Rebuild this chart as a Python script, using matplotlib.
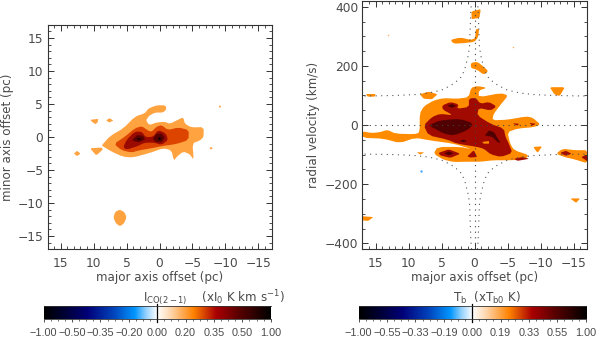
import numpy as np
import matplotlib
matplotlib.use('Agg')
import matplotlib.pyplot as plt
from matplotlib.colors import LinearSegmentedColormap
from matplotlib.ticker import MultipleLocator

# ---- left panel: integrated intensity contours (offset pc, offset pc)
left_level1 = [
    [(8.8,-1.3),(7.5,0.15),(5.5,1.3),(3.7,3.1),(2.2,3.6),(1.7,4.3),(0.45,4.8),(-0.9,4.8),(-1.05,4.2),
     (-0.55,3.7),(0.7,3.7),(1.6,3.2),(2.05,2.5),(1.55,1.8),(0.45,2.2),(-0.8,2.3),(-1.55,2.0),(-2.6,2.5),
     (-3.6,3.0),(-3.85,2.0),(-4.85,1.45),(-6.7,1.5),(-6.7,0),(-6.1,-0.55),(-5,-0.95),(-5.2,-3.5),
     (-4.6,-2.6),(-3.6,-2.2),(-2.6,-3),(-2.2,-3.6),(-1.8,-2),(-0.55,-1.7),(1.45,-2.4),(4,-3.1),
     (5.5,-3),(7.3,-2.2),(8.5,-1.45)],
    [(10.55,-1.7),(8.8,-1.6),(8.6,-1.9),(9.6,-2.8)],
    [(10.5,2.6),(9.3,2.75),(9.4,2.2),(9.7,1.95),(10.2,2.25)],
    [(8.1,2.5),(7.6,2.85),(7.0,2.5),(7.6,2.2)],
    [(13.0,-2.5),(12.5,-2.1),(12.0,-2.5),(12.5,-2.9)],
    [(7.0,-12.2),(6.7,-11.3),(6.0,-11.0),(5.3,-11.4),(5.0,-12.2),(5.4,-13.1),(6.0,-13.5),(6.6,-13.1)],
    [(-9.0,4.6),(-9.15,4.8),(-9.35,4.6),(-9.15,4.4)],
    [(-7.6,-1.7),(-7.8,-1.5),(-8.1,-1.7),(-7.8,-1.9)],
]
left_level2 = [[(6.9,-1.05),(5.25,0.05),(3.75,1.3),(2.7,1.65),(1.7,0.95),(1.2,0.8),(0.45,1.55),(-0.3,1.8),
                (-1.3,1.05),(-2.85,1.45),(-4.45,1.05),(-4.4,-0.45),(-2.6,-1.05),(-0.55,-1.35),(1.2,-1.7),
                (3,-2),(4.25,-2.35),(5.75,-2)]]
left_level3 = [[(5.5,-1.55),(5,-0.45),(3.75,0.8),(2.7,0.8),(2.05,-0.05),(0.95,0.05),(0.2,1.05),(-0.95,0.55),
                (-1.3,-0.45),(-0.3,-1.2),(0.85,-0.85),(2.2,-0.85),(3.5,-1.45),(5,-1.9)]]
left_level4 = [[(4.2,-0.5),(3.4,0.3),(2.5,0.2),(2.2,-0.4),(3.2,-0.8)],
               [(1.0,-0.3),(0.5,0.5),(-0.3,0.55),(-0.8,-0.1),(-0.3,-0.8),(0.5,-0.8)]]
left_level5 = [[(3.5,-0.3),(3.1,-0.15),(2.7,-0.3),(3.1,-0.45)],
               [(0.3,-0.25),(0,0),(-0.3,-0.25),(0,-0.5)]]

# ---- right panel: position-velocity contours (offset pc, km/s)
right_level1 = [
    [(17,-21),(15.6,-27),(14.3,-24),(13.2,-16),(12,-29),(9,-31),(8.3,-24),(8.3,38),(7.7,63),(6.2,83),(4.7,91),
     (2.6,89),(0.9,94),(0.5,126),(-0.4,132),(-1.9,126),(-0.65,117),(-0.65,94),(-4,108),(-5.1,100),(-4,70),
     (-2.9,38),(-2.7,16),(-5,18),(-7.8,29),(-8.8,25),(-10,2),(-9,-7),(-6.5,-12),(-5,-24),(-5.4,-63),(-6,-85),
     (-8.3,-102),(-7.5,-117),(-5.2,-119),(-2.9,-119),(-0.9,-124),(1.1,-124),(3.15,-125),(4.7,-117),(6.2,-97),
     (5.6,-74),(2.1,-74),(0.35,-82),(3.15,-63),(6.7,-52),(9,-43),(11.3,-61),(13.8,-46),(17,-43)],
    [(0.45,384),(-0.95,392),(-0.75,362),(0.45,358)],
    [(3.65,288),(2.15,296),(0.6,288),(-0.1,293),(-0.2,325),(-0.7,325),(-0.55,297),(0,281),(1.6,277),(3.15,275)],
    [(0.55,210),(-0.4,214),(-1.35,198),(-2.1,182),(-1.4,170),(-0.4,187),(0.55,193)],
    [(8.3,104),(6.95,113),(5.6,104),(6.45,87),(7.7,89)],
    [(16.45,105),(15.0,105),(15.1,96),(16.2,96)],
    [(-11.4,128),(-13.7,128),(-12.9,98),(-12.1,104)],
    [(-8.9,-74),(-10.25,-72),(-9.55,-94)],
    [(-14.5,-248),(-16.0,-248),(-15.4,-263)],
    [(17.2,-308),(15.3,-311),(16.1,-324),(17.2,-322)],
    [(8.75,-92),(7.6,-92),(8.2,-100)],
    [(-12.35,-97),(-13.35,-80),(-15.15,-85),(-17.2,-85),(-17.2,-130),(-15.15,-116),(-13.6,-108)],
]
right_level2 = [
    [(7.7,-1),(6.45,27),(5.2,38),(3.25,33),(4.8,52),(4.9,66),(3.65,78),(2.4,70),(2.65,55),(0.85,61),(0.85,89),
     (-0.15,92),(-0.9,72),(-2.2,78),(-3.35,63),(-2.45,49),(-0.65,58),(-0.4,33),(-2.45,4),(-4.45,-12),(-4.7,-40),
     (-5.2,-63),(-5.75,-94),(-4,-108),(-2.45,-99),(-1.4,-80),(-0.4,-74),(2.65,-63),(4.15,-49),(6.95,-35)],
    [(5.45,-94),(3.9,-82),(2.15,-97),(3.65,-111),(5.15,-103)],
    [(1.1,-106),(0.1,-85),(-0.4,-108),(0.6,-110)],
    [(-6,-114),(-7.25,-108),(-8.3,-114),(-6.5,-121)],
    [(-5.75,6),(-6.75,4.5),(-6.5,-2)],
    [(-8.3,7),(-9.3,4.5),(-8.8,-2)],
    [(-13,-94),(-13.85,-87),(-14.7,-97),(-13.85,-104)],
    [(-16.15,-108),(-17.15,-100),(-17.15,-123)],
]
right_hole = [[(-1.15,-57),(-2.2,-54),(-2.2,-63),(-1.4,-63)]]
right_level3 = [
    [(6.95,-1),(5.2,16),(2.15,21),(0.1,4.5),(1.1,-18),(3.15,-35),(4.65,-29),(6.45,-7)],
    [(4.15,66),(3.4,71),(2.75,65),(3.4,58)],
    [(2.25,-53),(1.6,-49),(1.1,-55),(1.75,-58)],
    [(4.55,-96),(3.9,-89),(3.15,-96),(3.9,-102)],
    [(-1.55,-35),(-2.2,-18),(-2.95,-24),(-3.95,-61),(-3.45,-57),(-2.7,-40)],
]
right_specks_x = [13.15, -5.85, 8.05]
right_specks_v = [305, 264, -155]

# dotted rotation-curve guide (|offset|, |velocity|)
guide_x = [0.45, 0.55, 0.75, 0.95, 1.4, 1.9, 2.6, 3.5, 5.0, 7.0, 9.0, 12.0, 17.0]
guide_v = [420, 390, 265, 235, 195, 165, 150, 135, 118, 108, 103, 100, 98]

left_cb_labels = ['-1.00', '-0.50', '-0.35', '-0.20', '0.00', '0.20', '0.35', '0.50', '1.00']
right_cb_labels = ['-1.00', '-0.55', '-0.33', '-0.19', '0.00', '0.19', '0.33', '0.55', '1.00']

# ---- styling
W, H = 597, 338
TXT = '#4a4a4a'
plt.rcParams['font.family'] = 'DejaVu Sans'
plt.rcParams['font.size'] = 8.6


def box(x0, y0, x1, y1):
    return [x0 / W, 1 - y1 / H, (x1 - x0) / W, (y1 - y0) / H]


def chaikin(p):
    p = np.array(p, float)
    q = np.roll(p, -1, axis=0)
    w = 0.8 if len(p) > 6 else 0.88
    out = np.empty((2 * len(p), 2))
    out[0::2] = w * p + (1 - w) * q
    out[1::2] = (1 - w) * p + w * q
    return out


def draw(ax, polys, color):
    for poly in polys:
        s = chaikin(poly)
        ax.fill(s[:, 0], s[:, 1], color=color, lw=0)


def style(ax, ymajor, yminor):
    ax.xaxis.set_major_locator(MultipleLocator(5))
    ax.xaxis.set_minor_locator(MultipleLocator(1))
    ax.yaxis.set_major_locator(MultipleLocator(ymajor))
    ax.yaxis.set_minor_locator(MultipleLocator(yminor))
    ax.tick_params(which='major', direction='in', top=True, right=True, length=4.2, width=0.7,
                   color='#333333', labelcolor=TXT, labelsize=8.8)
    ax.tick_params(axis='x', which='major', pad=5.5)
    ax.tick_params(axis='y', which='major', pad=3)
    ax.tick_params(which='minor', direction='in', top=True, right=True, length=2.2, width=0.6, color='#333333')
    for s in ax.spines.values():
        s.set_linewidth(0.8)
        s.set_color('#333333')


fig = plt.figure(figsize=(W / 100, H / 100), dpi=100)

# left panel
ax1 = fig.add_axes(box(47.5, 24.7, 271.5, 249.3))
draw(ax1, left_level1, '#ffa240')
draw(ax1, left_level2, '#dc4400')
draw(ax1, left_level3, '#9a0a00')
draw(ax1, left_level4, '#5a0000')
draw(ax1, left_level5, '#100000')
ax1.set_xlim(17, -17)
ax1.set_ylim(-17, 17)
style(ax1, 5, 1)
fig.text(159.5 / W, 1 - 277 / H, 'major axis offset (pc)', ha='center', va='center', color=TXT, fontsize=8.6)
fig.text(7.5 / W, 1 - 137 / H, 'minor axis offset (pc)', ha='center', va='center', rotation=90, color=TXT, fontsize=8.6)

# right panel
ax2 = fig.add_axes(box(362.3, 0.8, 586.7, 249.3))
draw(ax2, right_level1, '#ff8c00')
draw(ax2, right_level2, '#a00a00')
draw(ax2, right_hole, '#ff8c00')
draw(ax2, right_level3, '#500000')
ax2.scatter(right_specks_x[:2], right_specks_v[:2], s=1.2, color='#ffb060', lw=0)
ax2.scatter(right_specks_x[2:], right_specks_v[2:], s=3, color='#4aa8ff', lw=0)
gx, gv = np.array(guide_x), np.array(guide_v)
DOT = (0, (1, 4))
for sx in (1, -1):
    for sv in (1, -1):
        ax2.plot(sx * gx, sv * gv, color='#555555', lw=0.8, ls=DOT)
ax2.plot([0, 0], [-420, 420], color='#444444', lw=0.8, ls=DOT)
ax2.plot([-17, 17], [0, 0], color='#444444', lw=0.8, ls=DOT)
ax2.set_xlim(17, -17)
ax2.set_ylim(-420, 420)
style(ax2, 200, 50)
fig.text(474.5 / W, 1 - 277 / H, 'major axis offset (pc)', ha='center', va='center', color=TXT, fontsize=8.6)
fig.text(314 / W, 1 - 125 / H, 'radial velocity (km/s)', ha='center', va='center', rotation=90, color=TXT, fontsize=8.6)

# colour bars
cmap = LinearSegmentedColormap.from_list('idlbw', [
    (0.00, '#000000'), (0.10, '#00003c'), (0.19, '#000078'), (0.31, '#0046be'), (0.40, '#0096ff'),
    (0.45, '#96d2ff'), (0.499, '#ffffff'),
    (0.556, '#ffd8b0'), (0.66, '#ff8200'), (0.76, '#aa0000'), (0.86, '#5a0000'), (1.00, '#000000')])


def cbar(x0, x1, labels, title_x, title):
    ax = fig.add_axes(box(x0, 306, x1, 319))
    ax.imshow(np.linspace(0, 1, 512)[None, :], cmap=cmap, aspect='auto', extent=[0, 8, 0, 1], vmin=0, vmax=1)
    ax.axvline(4, color='black', lw=0.9, ymin=-0.2, ymax=1.15, clip_on=False)
    ax.set_xticks(range(9))
    ax.set_xticklabels([s.replace('-', '\u2212') for s in labels], family='Liberation Sans')
    ax.xaxis.set_minor_locator(MultipleLocator(0.25))
    ax.set_yticks([])
    ax.tick_params(which='major', direction='out', length=2.5, width=0.6, color='#333333',
                   labelcolor=TXT, labelsize=7.8, pad=4)
    ax.tick_params(which='minor', direction='out', length=1.2, width=0.5, color='#333333')
    for k, s in ax.spines.items():
        s.set_linewidth(0.6)
        s.set_color('#333333')
        if k in ('left', 'right'):
            s.set_visible(False)
    fig.text(title_x / W, 1 - 298 / H, title, ha='center', va='center', color=TXT, fontsize=8.6)


cbar(43.7, 270.7, left_cb_labels, 213.5,
     r'I$_{\mathrm{CO(2-1)}}$    (xI$_{\mathrm{0}}$ K km s$^{-1}$)')
cbar(358.7, 585.7, right_cb_labels, 486.5,
     r'T$_{\mathrm{b}}$  (xT$_{\mathrm{b0}}$ K)')

fig.savefig('out.png', dpi=100)
